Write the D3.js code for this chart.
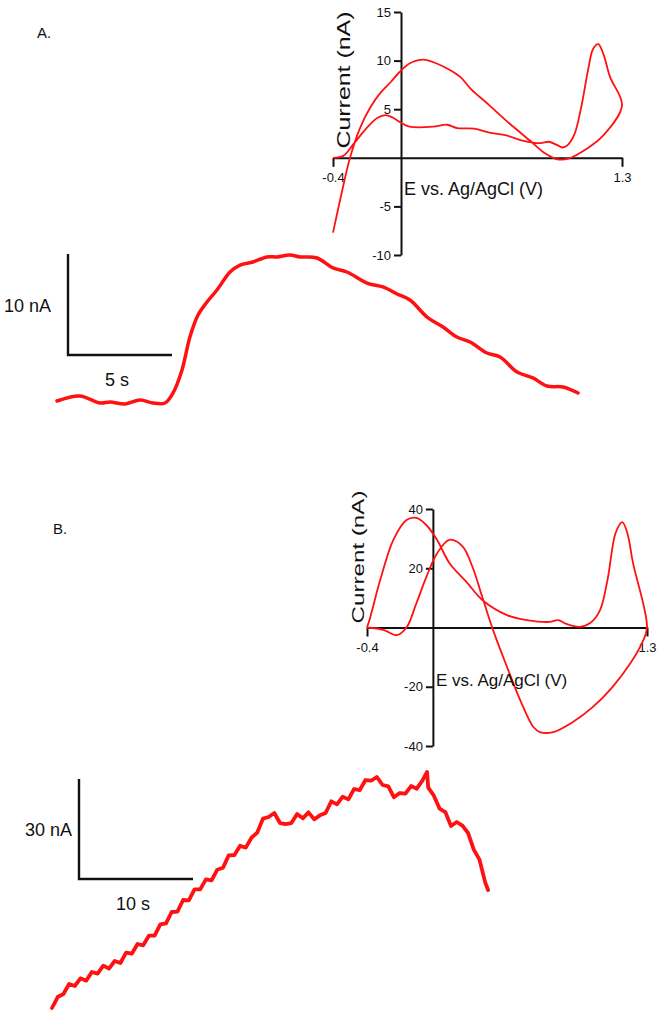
<!DOCTYPE html>
<html lang="en">
<head>
    <meta charset="UTF-8">
    <title>Voltammograms and current traces</title>
    <script src="https://d3js.org/d3.v7.min.js"></script>
    <style>
        body, html {
            margin: 0;
            background-color: #ffffff;
        }
        text {
            font-family: "Liberation Sans", Arial, sans-serif;
            fill: #111;
        }
    </style>
</head>
<body>
<div id="figure"></div>
<script>
// ---- data ----
// Panel A cyclic voltammogram (E in V, current in nA)
var cvA_E = [-0.40, -0.35, -0.30, -0.24, -0.18, -0.12, -0.06, -0.01, 0.05, 0.13, 0.21, 0.29, 0.35, 0.41, 0.52, 0.64, 0.76, 0.84, 0.92, 0.99, 1.09, 1.19, 1.30,
             1.23, 1.19, 1.16, 1.13, 1.10, 1.06, 1.02, 0.98, 0.95, 0.92, 0.87, 0.82, 0.72, 0.62, 0.52, 0.43, 0.33, 0.27, 0.19, 0.05, 0.00, -0.05, -0.09, -0.14, -0.20, -0.28, -0.34, -0.40];
var cvA_I = [-7.7, -3.7, 0.0, 3.1, 5.2, 6.7, 7.8, 8.8, 9.7, 10.1, 9.7, 9.0, 8.3, 7.1, 5.4, 3.5, 1.75, 0.55, -0.15, -0.05, 0.9, 2.3, 5.4,
             8.3, 10.7, 11.7, 11.2, 9.0, 5.2, 2.4, 1.3, 1.06, 1.3, 1.65, 1.5, 1.75, 2.3, 2.6, 3.0, 3.05, 3.4, 3.2, 3.2, 3.6, 4.15, 4.4, 4.1, 3.1, 1.4, 0.2, 0.0];
var cvA_ticksY = [-10, -5, 5, 10, 15];

// Panel A current vs time (s, nA above baseline)
var trA_t = [0, 1.1, 2.07, 2.55, 3.27, 3.99, 4.62, 5.19, 5.58, 6.01, 6.39, 6.78, 7.21, 7.69, 8.32, 8.80, 9.42, 10.10, 10.58, 11.20, 11.68, 12.5, 13.27, 13.94, 14.9, 15.67, 16.35, 16.97, 17.79, 18.56, 19.23, 19.86, 20.67, 21.3, 22.12, 22.88, 23.56, 24.33, 25.05];
var trA_I = [0.2, 0.7, 0.0, 0.1, -0.1, 0.3, 0.0, 0.0, 1.0, 3.27, 6.53, 8.71, 10.0, 11.19, 12.97, 13.66, 13.96, 14.46, 14.46, 14.65, 14.46, 14.36, 13.37, 12.97, 11.88, 11.49, 10.79, 10.2, 8.51, 7.52, 6.53, 6.04, 4.95, 4.55, 3.07, 2.48, 1.68, 1.58, 0.99];

// Panel B cyclic voltammogram
var cvB_E = [-0.40, -0.30, -0.22, -0.16, -0.10, -0.04, 0.025, 0.10, 0.18, 0.24, 0.30, 0.365, 0.45, 0.53, 0.61, 0.65, 0.73, 0.85, 0.97, 1.09, 1.20, 1.27, 1.30,
             1.215, 1.18, 1.15, 1.11, 1.06, 1.015, 0.955, 0.89, 0.81, 0.76, 0.71, 0.57, 0.45, 0.30, 0.21, 0.10, 0.025, -0.04, -0.10, -0.16, -0.24, -0.32, -0.38, -0.40];
var cvB_I = [0, -0.8, -2.6, 0, 8.2, 17, 25, 29.6, 27.4, 20.5, 10.3, -0.8, -13.3, -24.5, -33.6, -35.3, -35.3, -31.9, -26.9, -20.1, -12, -5.2, 0,
             21.8, 32, 35.6, 32, 16, 5.9, 1.5, 0.2, 1.2, 2.5, 1.9, 2.5, 4.2, 9.3, 15, 21.8, 29.6, 34.6, 37, 36.3, 29.6, 16, 3.5, 0];
var cvB_ticksY = [-40, -20, 20, 40];

// Panel B current vs time (noisy trace)
var trB_t = [0, 0.5, 1, 1.5, 2, 2.5, 3, 3.5, 4, 4.5, 5, 5.5, 6, 6.5, 7, 7.5, 8, 8.5, 9, 9.5, 10, 10.5, 11, 11.5, 12, 12.5, 13, 13.5, 14, 14.5, 15, 15.5, 16, 16.5, 17, 17.5, 18, 18.5, 19, 19.5,
             20, 20.5, 21, 21.5, 22, 22.5, 23, 23.5, 24, 24.5, 25, 25.5, 26, 26.5, 27, 27.5, 28, 28.5, 29, 29.5, 30, 30.5, 31, 31.5, 32, 32.5, 32.9, 33, 33.5, 34, 34.5, 35, 35.5, 36, 36.5, 37, 37.5, 38, 38.25];
var trB_I = [-0.3, 3.0, 3.9, 6.9, 6.3, 8.6, 7.9, 10.5, 10.0, 12.4, 11.5, 13.8, 13.2, 16.3, 16.0, 18.9, 18.5, 21.4, 21.4, 24.8, 25.1, 28.5, 28.6, 32.1, 32.0, 35.3, 35.3, 38.3, 38.0, 41.2, 41.8, 45.5, 45.6, 48.4, 47.8, 50.8, 52.3, 56.5, 57.0, 58.2,
             55.2, 54.9, 55.2, 57.9, 56.6, 58.4, 56.3, 57.5, 58.2, 61.7, 60.8, 63.1, 62.3, 65.4, 65.1, 68.1, 67.9, 69.0, 66.6, 66.2, 62.9, 64.2, 64.0, 66.3, 65.5, 68.0, 70.5, 65.8, 63.4, 59.5, 58.5, 54.3, 55.5, 54.4, 52.2, 47.2, 44.2, 37.4, 35.1];

var svg = d3.select("#figure")
  .append("svg")
    .attr("width", 661)
    .attr("height", 1016);

var red = "#ff1111";
var hyphenFmt = function(f) { return function(d) { return f(d).replace("\u2212", "-"); }; };

function zipPts(xs, ys) {
    return xs.map(function(x, i) { return [x, ys[i]]; });
}

function styleAxis(a) {
    a.select(".domain").attr("stroke", "#111").attr("stroke-width", 2);
    a.selectAll(".tick line").attr("stroke", "#111").attr("stroke-width", 2);
    a.selectAll("text").style("font-size", "13px").attr("fill", "#222");
}

// ---- cyclic voltammogram panel ----
function drawCV(xs, ys, ticksY, xRange, yDomain, yRange, labels) {
    var x = d3.scaleLinear().domain([-0.4, 1.3]).range(xRange);
    var y = d3.scaleLinear().domain(yDomain).range(yRange);
    var g = svg.append("g");

    // x axis at 0 nA, only end ticks
    g.append("g")
      .attr("transform", "translate(0," + y(0) + ")")
      .call(d3.axisBottom(x).tickValues([-0.4, 1.3]).tickSize(9).tickPadding(6).tickSizeOuter(0)
            .tickFormat(hyphenFmt(d3.format(".1f"))))
      .call(styleAxis);

    // y axis at 0 V
    g.append("g")
      .attr("transform", "translate(" + x(0) + ",0)")
      .call(d3.axisLeft(y).tickValues(ticksY).tickSize(7).tickPadding(3).tickSizeOuter(0)
            .tickFormat(hyphenFmt(d3.format("d"))))
      .call(styleAxis);

    g.append("path")
      .datum(zipPts(xs, ys))
      .attr("fill", "none")
      .attr("stroke", red)
      .attr("stroke-width", 1.8)
      .attr("stroke-linejoin", "round")
      .attr("d", d3.line()
          .x(function(d) { return x(d[0]); })
          .y(function(d) { return y(d[1]); })
          .curve(d3.curveCatmullRom));

    // axis titles
    g.append("text")
      .attr("x", x(0) + 3)
      .attr("y", y(0) + labels.eDy)
      .style("font-size", labels.size + "px")
      .text("E vs. Ag/AgCl (V)");

    g.append("text")
      .attr("transform", "translate(" + labels.cx + "," + labels.cy + ") rotate(-90)")
      .attr("text-anchor", "middle")
      .attr("textLength", labels.len)
      .attr("lengthAdjust", "spacingAndGlyphs")
      .style("font-size", labels.size + "px")
      .text("Current (nA)");
}

// ---- current vs time trace with scale bars ----
function drawTrace(ts, is, x0, pxPerS, y0, pxPerNA, width, bar) {
    var x = d3.scaleLinear().domain([0, 1]).range([x0, x0 + pxPerS]);
    var y = d3.scaleLinear().domain([0, 1]).range([y0, y0 - pxPerNA]);
    var g = svg.append("g");

    g.append("path")
      .datum(zipPts(ts, is))
      .attr("fill", "none")
      .attr("stroke", red)
      .attr("stroke-width", width)
      .attr("stroke-linejoin", "round")
      .attr("stroke-linecap", "round")
      .attr("d", d3.line()
          .x(function(d) { return x(d[0]); })
          .y(function(d) { return y(d[1]); })
          .curve(bar.curve));

    // scale bars: lengths come from the same scales as the trace
    var barH = y(0) - y(bar.nA);
    var barW = x(bar.s) - x(0);
    g.append("path")
      .attr("d", "M" + bar.x + "," + (bar.y - barH) + "V" + bar.y + "H" + (bar.x + barW))
      .attr("fill", "none")
      .attr("stroke", "#111")
      .attr("stroke-width", 2.4);

    g.append("text")
      .attr("x", bar.x - bar.gap)
      .attr("y", bar.y - barH / 2 + 7)
      .attr("text-anchor", "end")
      .style("font-size", "18px")
      .text(bar.nA + " nA");

    g.append("text")
      .attr("x", bar.x + barW / 2 - 3)
      .attr("y", bar.y + 31)
      .attr("text-anchor", "middle")
      .style("font-size", "18px")
      .text(bar.s + " s");
}

// Panel A
drawCV(cvA_E, cvA_I, cvA_ticksY, [333, 622], [-10, 15], [255, 12],
       {size: 18, eDy: 37, cx: 350, cy: 80, len: 137});
drawTrace(trA_t, trA_I, 57, 20.8, 403, 10.1, 3.5,
          {x: 68, y: 355, nA: 10, s: 5, gap: 17, curve: d3.curveCatmullRom});

// Panel B
drawCV(cvB_E, cvB_I, cvB_ticksY, [367, 647], [-40, 40], [746, 509],
       {size: 17, eDy: 58, cx: 364, cy: 557, len: 133});
drawTrace(trB_t, trB_I, 52, 11.4, 1007, 3.333, 3.8,
          {x: 79, y: 879, nA: 30, s: 10, gap: 7, curve: d3.curveLinear});

// panel letters
svg.append("text").attr("x", 37).attr("y", 38).style("font-size", "15px").text("A.");
svg.append("text").attr("x", 53).attr("y", 534).style("font-size", "15px").text("B.");
</script>
</body>
</html>
